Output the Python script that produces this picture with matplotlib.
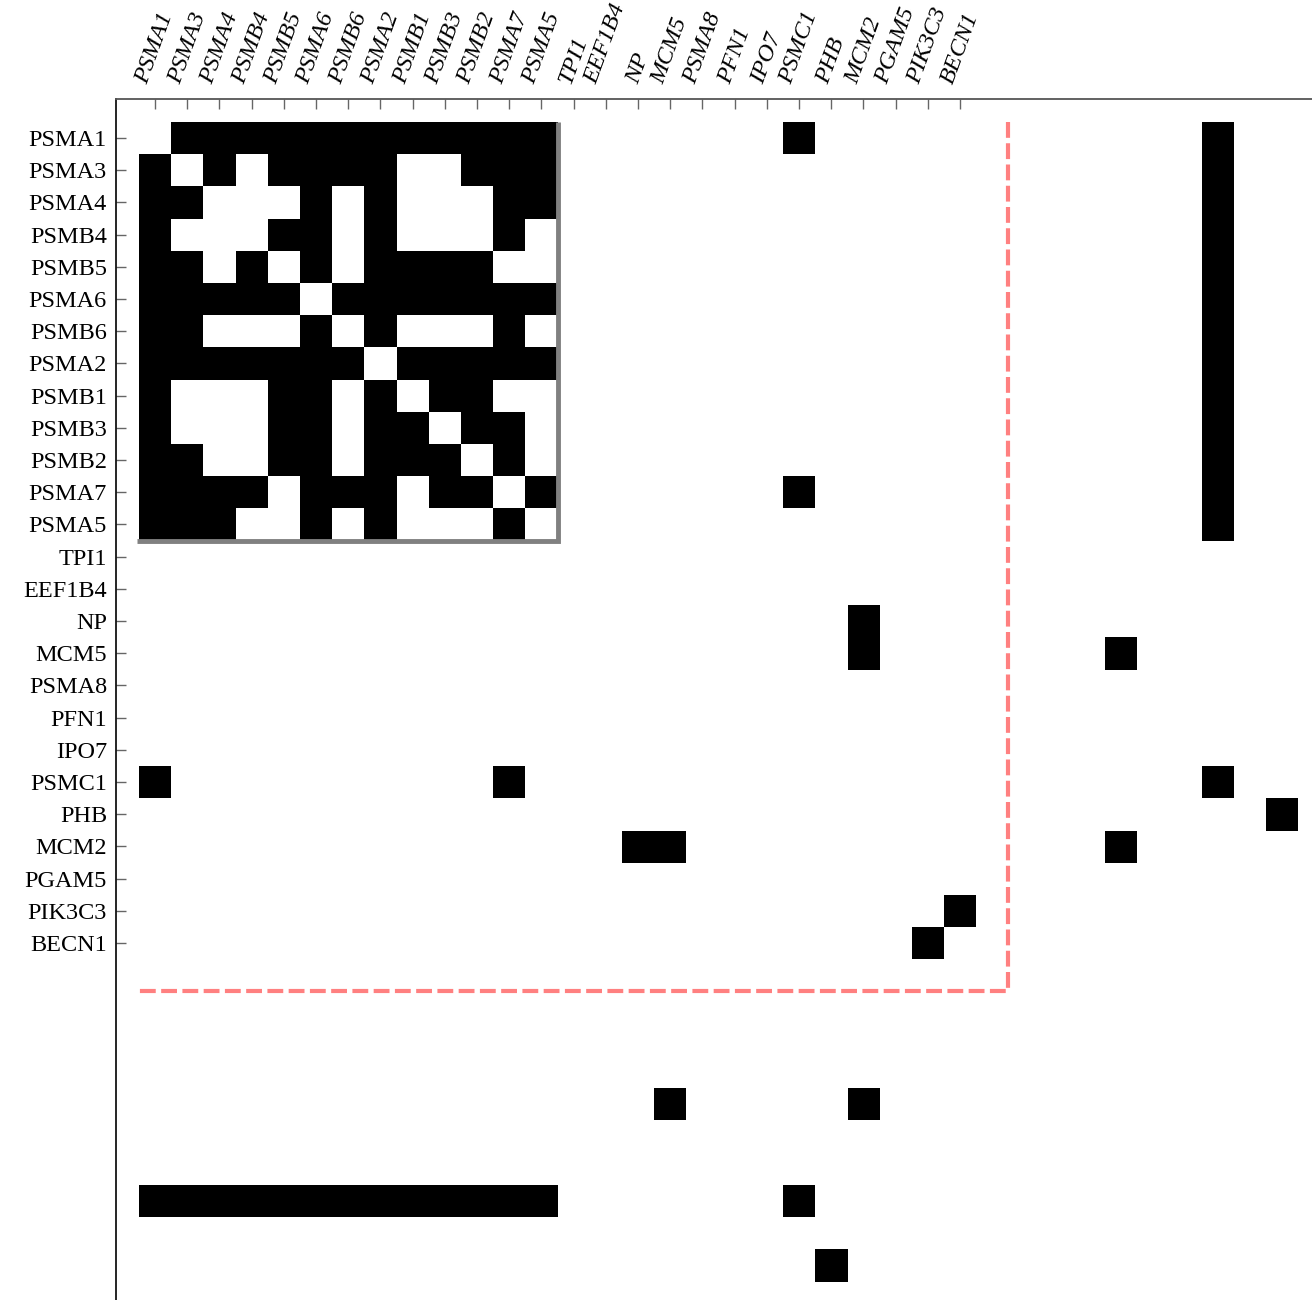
import numpy as np
import matplotlib
matplotlib.use("Agg")
import matplotlib.pyplot as plt

labels = ["PSMA1", "PSMA3", "PSMA4", "PSMB4", "PSMB5", "PSMA6", "PSMB6",
          "PSMA2", "PSMB1", "PSMB3", "PSMB2", "PSMA7", "PSMA5", "TPI1",
          "EEF1B4", "NP", "MCM5", "PSMA8", "PFN1", "IPO7", "PSMC1", "PHB",
          "MCM2", "PGAM5", "PIK3C3", "BECN1"]

# 13x13 proteasome block (rows/cols 0..12)
block = [
    [0,1,1,1,1,1,1,1,1,1,1,1,1],
    [1,0,1,0,1,1,1,1,0,0,1,1,1],
    [1,1,0,0,0,1,0,1,0,0,0,1,1],
    [1,0,0,0,1,1,0,1,0,0,0,1,0],
    [1,1,0,1,0,1,0,1,1,1,1,0,0],
    [1,1,1,1,1,0,1,1,1,1,1,1,1],
    [1,1,0,0,0,1,0,1,0,0,0,1,0],
    [1,1,1,1,1,1,1,0,1,1,1,1,1],
    [1,0,0,0,1,1,0,1,0,1,1,0,0],
    [1,0,0,0,1,1,0,1,1,0,1,1,0],
    [1,1,0,0,1,1,0,1,1,1,0,1,0],
    [1,1,1,1,0,1,1,1,0,1,1,0,1],
    [1,1,1,0,0,1,0,1,0,0,0,1,0],
]

# other symmetric links (row, col)
edge_rows = [0, 11, 0, 1, 2, 3, 4, 5, 6, 7, 8, 9, 10, 11, 12, 20, 15, 16, 16, 22, 21, 24]
edge_cols = [20, 20, 33, 33, 33, 33, 33, 33, 33, 33, 33, 33, 33, 33, 33, 33, 22, 22, 30, 30, 35, 25]

n_total = 38
block_size = len(block)
group_size = 27

M = np.zeros((n_total, n_total))
M[:block_size, :block_size] = np.array(block)
for r, c in zip(edge_rows, edge_cols):
    M[r, c] = 1
    M[c, r] = 1

W, H = 1312, 1300
fig = plt.figure(figsize=(W / 100, H / 100), dpi=100)
cell = 32.2
pad_units = 0.714
xmin = -0.5 - pad_units
xmax = n_total - 0.5
span = xmax - xmin
ax_w = span * cell
left_px, top_px = 116, 99
ax = fig.add_axes([left_px / W, 1 - (top_px + ax_w) / H, ax_w / W, ax_w / H])

ax.imshow(M, cmap="gray_r", vmin=0, vmax=1, interpolation="nearest", aspect="auto")
ax.set_xlim(xmin, xmax)
ax.set_ylim(xmax, xmin)

# block outline (right and bottom)
b = block_size - 0.5
ax.plot([b, b, -0.55], [-0.5, b, b], color="#808080", lw=3.5,
        solid_joinstyle="miter", solid_capstyle="butt")

# group outline (right and bottom), dashed red
g = group_size - 0.5
ax.plot([g, g, -0.5], [-0.5, g, g], color="#ff8080", lw=3, ls="--",
        dashes=(3.8, 1.3), dash_joinstyle="miter")

ticks = np.arange(len(labels))
ax.set_xticks(ticks)
ax.set_yticks(ticks)
ax.xaxis.tick_top()
ax.set_xticklabels(labels, rotation=70, fontsize=17.5, family="Liberation Serif",
                   style="italic", ha="center", va="bottom")
ax.set_yticklabels(labels, fontsize=17.5, family="Liberation Serif")
ax.tick_params(axis="x", direction="in", length=7.5, width=1, color="#666666", pad=9)
ax.tick_params(axis="y", direction="in", length=7.5, width=1, color="#666666", pad=6.5)

for s in ["right", "bottom"]:
    ax.spines[s].set_visible(False)
ax.spines["top"].set_color("#555555")
ax.spines["top"].set_linewidth(1.3)
ax.spines["left"].set_color("#000000")
ax.spines["left"].set_linewidth(1.2)

fig.savefig("out.png", dpi=100)
